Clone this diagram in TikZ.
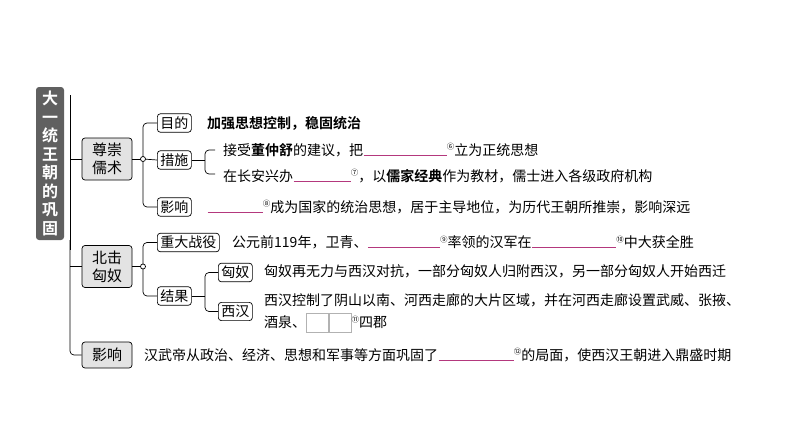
\documentclass[tikz,border=0pt]{standalone}
\usepackage{fontspec}
\setmainfont{Noto Sans CJK SC}
\newfontfamily\cjkb{Noto Sans CJK SC Bold}
\tikzset{
 lab/.style={draw=black,rounded corners=3pt,line width=0.7pt,inner xsep=3pt,inner ysep=2.8pt,font=\fontsize{14}{16}\selectfont},
 big/.style={lab,fill=gray!22,minimum width=50pt,align=center,font=\fontsize{15}{18}\selectfont},
 txt/.style={anchor=west,inner sep=0pt,font=\fontsize{14}{16}\selectfont},
 ln/.style={line width=0.7pt,rounded corners=4pt},
 blank/.style={draw=magenta!70!black,line width=0.7pt},
}
\newcommand{\cn}[1]{\raisebox{0.7ex}{\fontsize{7.5}{8}\selectfont #1}}
\newcommand{\bl}[1]{\tikz[baseline]{\draw[blank](0,-0.05)--(#1,-0.05);}}
\begin{document}
\begin{tikzpicture}[x=1pt,y=-1pt]
\useasboundingbox (0,0) rectangle (794,447);
\node[fill=gray!75!black,rounded corners=3pt,minimum width=28pt,minimum height=153pt,text=white,align=center,inner sep=0pt,font=\cjkb\fontsize{16}{18.5}\selectfont] (t) at (50,163.5) {大\\一\\统\\王\\朝\\的\\巩\\固};
\node[big,minimum height=42pt] (a) at (107,159) {尊崇\\儒术};
\node[big,minimum height=42pt] (b) at (107,266.5) {北击\\匈奴};
\node[big,minimum height=26pt] (c) at (107,355) {影响};
\draw[line width=1pt] (70,95) -- (70,250);
\draw[ln] (70,240) -- (70,355) -- (c.west);
\draw[line width=0.7pt] (70,159) -- (a.west) (70,266.5) -- (b.west);
\node[lab,anchor=west] (a1) at (157,123) {目的};
\node[lab,anchor=west] (a2) at (157,160) {措施};
\node[lab,anchor=west] (a3) at (157,207) {影响};
\coordinate (ja) at (143,159);
\draw[line width=0.7pt] (a.east) -- (ja);
\draw[ln] (a1.west) -| (ja) |- (a3.west);
\draw[line width=0.7pt] (ja) -- (a2.west);
\filldraw[fill=white,line width=0.7pt] (ja) circle (2.5pt);
\node[txt,font=\cjkb\fontsize{14}{16}\selectfont] (a1t) at (207,123) {加强思想控制，稳固统治};
\coordinate (ba) at (205,160);
\draw[line width=0.7pt] (a2.east) -- (ba);
\draw[ln] (215,150) -| (ba) |- (215,174);
\node[txt] (a2t1) at (223,150) {接受{\cjkb 董仲舒}的建议，把\bl{83pt}\cn{⑥}立为正统思想};
\node[txt] (a2t2) at (223,176) {在长安兴办\bl{57pt}\cn{⑦}，以{\cjkb 儒家经典}作为教材，儒士进入各级政府机构};
\node[txt] (a3t) at (207,207) {\bl{55pt}\cn{⑧}成为国家的统治思想，居于主导地位，为历代王朝所推崇，影响深远};
\node[lab,anchor=west] (b1) at (157,242.5) {重大战役};
\node[lab,anchor=west] (b2) at (157,296) {结果};
\coordinate (jb) at (143,266.5);
\draw[line width=0.7pt] (b.east) -- (jb);
\draw[ln] (b1.west) -| (jb) |- (b2.west);
\filldraw[fill=white,line width=0.7pt] (jb) circle (2.5pt);
\node[txt] (b1t) at (232,242.5) {公元前119年，卫青、\bl{72pt}\cn{⑨}率领的汉军在\bl{84pt}\cn{⑩}中大获全胜};
\node[lab,anchor=west] (b21) at (218,272.5) {匈奴};
\node[lab,anchor=west] (b22) at (218,311.5) {西汉};
\draw[line width=0.7pt] (b2.east) -- (205,296);
\draw[ln] (b21.west) -| (205,296) |- (b22.west);
\node[txt] (b21t) at (264,271) {匈奴再无力与西汉对抗，一部分匈奴人归附西汉，另一部分匈奴人开始西迁};
\node[txt] (b22t) at (264,300) {西汉控制了阴山以南、河西走廊的大片区域，并在河西走廊设置武威、张掖、};
\node[txt] (b22t2) at (264,323) {酒泉、\tikz[baseline=-4pt]{\draw[gray!60,line width=0.5pt] (0,-10) rectangle (22,9) (23,-10) rectangle (45,9);}\cn{⑪}四郡};
\node[txt] (ct) at (144,355) {汉武帝从政治、经济、思想和军事等方面巩固了\bl{75pt}\cn{⑫}的局面，使西汉王朝进入鼎盛时期};
\end{tikzpicture}
\end{document}
